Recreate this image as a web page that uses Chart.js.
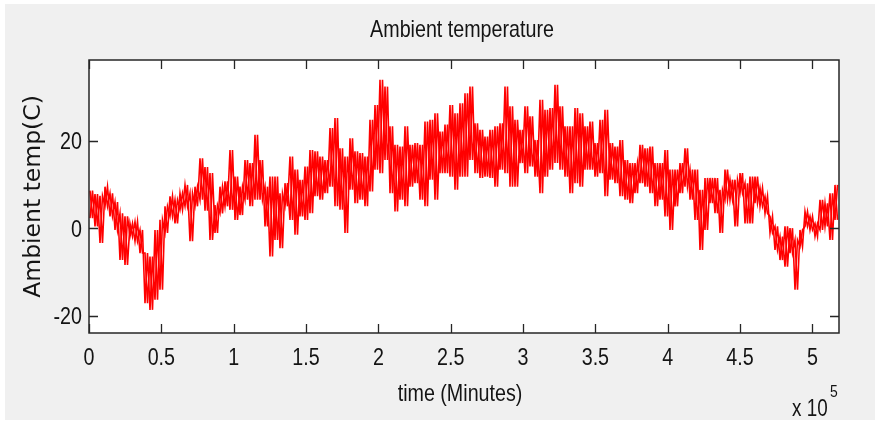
<!DOCTYPE html>
<html>
<head>
<meta charset="utf-8">
<script src="https://cdn.jsdelivr.net/npm/chart.js@4.4.1/dist/chart.umd.min.js"></script>
<style>
  html, body { margin: 0; padding: 0; background: #fff; }
  #wrap { width: 875px; height: 423px; }
</style>
</head>
<body>
<div id="wrap"><canvas id="tempChart" width="875" height="423"></canvas></div>
<script>
// time axis runs to 518400 minutes (360 days)
const TMAX = 518400;
const XTICKS = [0, 50000, 100000, 150000, 200000, 250000, 300000, 350000, 400000, 450000, 500000];
const XTICK_LABELS = ['0', '0.5', '1', '1.5', '2', '2.5', '3', '3.5', '4', '4.5', '5'];
const YTICKS = [-20, 0, 20];

// upper / lower swing of the reading in each time slot
const TEMP_HI = [
  8.6, 7.8, 7.4, 9.5, 8.0, 6.0, 3.4, 2.7, 1.1, 1.5, -0.4, -5.7, -6.5, -0.4, 1.9, 5.0, 7.3, 6.5, 8.0, 9.9, 8.0, 9.5, 16.0, 14.0, 12.6,
  5.3, 9.5, 10.7, 17.9, 11.8, 9.5, 15.6, 14.9, 21.4, 15.6, 9.5, 11.8, 11.8, 8.0, 10.3, 16.4, 13.4, 11.1, 14.1, 17.9, 17.6, 16.4, 15.6, 22.9, 25.2,
  18.3, 16.4, 20.6, 17.6, 17.2, 16.4, 24.8, 28.2, 34.0, 32.4, 23.3, 19.1, 18.7, 23.3, 19.1, 19.5, 19.1, 24.4, 24.8, 26.3, 22.1, 23.7, 28.2, 26.3, 28.6,
  30.9, 32.4, 24.0, 22.5, 21.0, 22.5, 23.3, 24.0, 32.4, 27.9, 24.8, 22.5, 27.9, 25.6, 20.2, 29.4, 27.1, 27.5, 32.8, 27.9, 23.3, 23.3, 27.5, 26.3, 23.3,
  24.4, 19.5, 24.8, 27.1, 19.5, 18.7, 20.2, 15.6, 14.9, 14.9, 19.1, 18.3, 18.7, 14.9, 14.9, 17.9, 13.4, 13.4, 14.9, 18.3, 13.4, 13.4, 8.8, 11.5, 11.5,
  11.5, 8.8, 13.4, 11.1, 11.1, 12.6, 10.3, 11.8, 11.8, 9.2, 7.3, 2.7, 0.4, -1.9, 0.4, 0.0, -2.7, -0.4, 3.8, 2.7, 1.1, 6.5, 5.7, 8.0, 9.9
];
const TEMP_LO = [
  2.3, 0.4, -3.4, 5.0, 2.7, -0.4, -7.3, -8.4, -1.9, -3.0, -5.7, -17.2, -18.7, -16.4, -14.1, -1.1, 2.7, 1.1, 4.2, 5.0, -3.0, 5.0, 6.5, 4.0, -2.7,
  -1.1, 3.4, 5.0, 4.2, 1.9, 3.0, 6.5, 5.0, 6.5, 6.5, 0.4, -6.5, -2.7, -4.6, 5.0, 1.9, -1.5, 2.7, 1.9, 3.4, 7.3, 6.5, 8.0, 9.5, 5.0,
  4.2, -1.1, 8.8, 5.7, 6.5, 5.0, 8.4, 13.4, 12.6, 15.6, 8.0, 3.8, 6.5, 5.0, 9.5, 10.3, 6.5, 5.0, 11.1, 6.5, 12.6, 12.6, 11.8, 8.8, 11.8,
  11.8, 15.6, 12.6, 11.5, 11.8, 11.5, 9.5, 13.4, 12.6, 9.5, 9.5, 14.9, 12.6, 14.1, 11.8, 8.0, 11.8, 13.4, 14.9, 13.4, 11.8, 8.0, 10.3, 9.5, 13.4,
  13.4, 11.8, 12.6, 7.3, 11.1, 10.3, 7.3, 6.5, 5.7, 8.0, 10.3, 9.5, 8.0, 5.0, 6.5, 2.7, -0.4, 5.0, 8.0, 9.5, 6.5, 1.9, -5.0, -0.4, 5.7,
  3.4, -1.1, 6.5, 6.5, 0.4, 8.0, 1.1, 1.1, 5.7, 5.0, 3.4, -1.1, -5.0, -7.3, -8.8, -5.7, -14.1, -4.2, 0.4, -0.4, -1.9, -0.4, 0.4, -2.7, 1.9
];

const FONT = "'Liberation Sans', Arial, sans-serif";
const INK = '#141414';
const RED = '#ff0000';

const slot = TMAX / TEMP_HI.length;
// two crossing zigzags through each slot's high and low give the dense noisy trace
const zigA = [];
const zigB = [];
TEMP_HI.forEach((hi, i) => {
  const lo = TEMP_LO[i];
  zigA.push({ x: (i + 0.2) * slot, y: hi }, { x: (i + 0.7) * slot, y: lo });
  zigB.push({ x: (i + 0.2) * slot, y: lo }, { x: (i + 0.7) * slot, y: hi });
});

// MATLAB-ish text is tall and narrow: squeeze horizontally
function narrowText(ctx, text, x, y, align, size, base) {
  ctx.save();
  ctx.translate(x, y);
  ctx.scale(0.82, 1);
  ctx.font = size + 'px ' + FONT;
  ctx.textAlign = align;
  ctx.textBaseline = base || 'alphabetic';
  ctx.fillText(text, 0, 0);
  ctx.restore();
}

const matlabFrame = {
  id: 'matlabFrame',
  beforeDraw(chart) {
    const { ctx, chartArea: a } = chart;
    ctx.save();
    ctx.fillStyle = '#fff';
    ctx.fillRect(0, 0, chart.width, chart.height);
    ctx.fillStyle = '#f0f0f0';
    ctx.fillRect(5, 4, chart.width - 5, chart.height - 7);
    ctx.fillStyle = '#fff';
    ctx.fillRect(a.left, a.top, a.right - a.left, a.bottom - a.top);
    ctx.restore();
  },
  afterDraw(chart) {
    const { ctx, chartArea: a, scales } = chart;
    const len = 9;
    ctx.save();
    ctx.strokeStyle = '#262626';
    ctx.lineWidth = 1.3;
    ctx.beginPath();
    scales.x.ticks.forEach(t => {
      const px = Math.round(scales.x.getPixelForValue(t.value)) + 0.5;
      ctx.moveTo(px, a.bottom); ctx.lineTo(px, a.bottom - len);
      ctx.moveTo(px, a.top); ctx.lineTo(px, a.top + len);
    });
    scales.y.ticks.forEach(t => {
      const py = Math.round(scales.y.getPixelForValue(t.value)) + 0.5;
      ctx.moveTo(a.left, py); ctx.lineTo(a.left + len, py);
      ctx.moveTo(a.right, py); ctx.lineTo(a.right - len, py);
    });
    ctx.stroke();
    ctx.lineWidth = 1.5;
    ctx.strokeRect(a.left, a.top, a.right - a.left, a.bottom - a.top);

    ctx.fillStyle = INK;
    // tick labels at the scales' own tick positions
    scales.x.ticks.forEach(t => {
      narrowText(ctx, XTICK_LABELS[XTICKS.indexOf(t.value)], scales.x.getPixelForValue(t.value), 365, 'center', 24);
    });
    scales.y.ticks.forEach(t => {
      narrowText(ctx, String(t.value), a.left - 7, scales.y.getPixelForValue(t.value) + 8.5, 'right', 24);
    });

    narrowText(ctx, 'Ambient temperature', (a.left + a.right) / 2 - 2, 30, 'center', 24, 'middle');
    narrowText(ctx, 'time (Minutes)', (a.left + a.right) / 2 - 4, 394, 'center', 24, 'middle');
    narrowText(ctx, 'x 10', 792, 416, 'left', 23);
    narrowText(ctx, '5', 830, 397, 'left', 17);

    ctx.translate(34, (a.top + a.bottom) / 2);
    ctx.rotate(-Math.PI / 2);
    ctx.textAlign = 'center';
    ctx.textBaseline = 'middle';
    ctx.font = "23.5px 'DejaVu Sans', Verdana, sans-serif";
    ctx.fillText('Ambient temp(C)', 0, 0);
    ctx.restore();
  }
};

new Chart(document.getElementById('tempChart'), {
  type: 'line',
  data: {
    datasets: [
      { data: zigA, borderColor: RED, borderWidth: 1.6, pointRadius: 0, fill: false },
      { data: zigB, borderColor: RED, borderWidth: 1.6, pointRadius: 0, fill: false }
    ]
  },
  options: {
    responsive: false,
    animation: false,
    layout: { padding: { left: 0, top: 60, right: 36, bottom: 0 } },
    plugins: { legend: { display: false }, tooltip: { enabled: false } },
    scales: {
      x: {
        type: 'linear',
        min: 0,
        max: TMAX,
        afterFit: s => { s.height = 90; },
        afterBuildTicks: s => { s.ticks = XTICKS.map(v => ({ value: v })); },
        grid: { display: false, drawTicks: false },
        border: { display: false },
        ticks: { display: false }
      },
      y: {
        min: -24,
        max: 38.5,
        afterFit: s => { s.width = 89; },
        afterBuildTicks: s => { s.ticks = YTICKS.map(v => ({ value: v })); },
        grid: { display: false, drawTicks: false },
        border: { display: false },
        ticks: { display: false }
      }
    }
  },
  plugins: [matlabFrame]
});
</script>
</body>
</html>
